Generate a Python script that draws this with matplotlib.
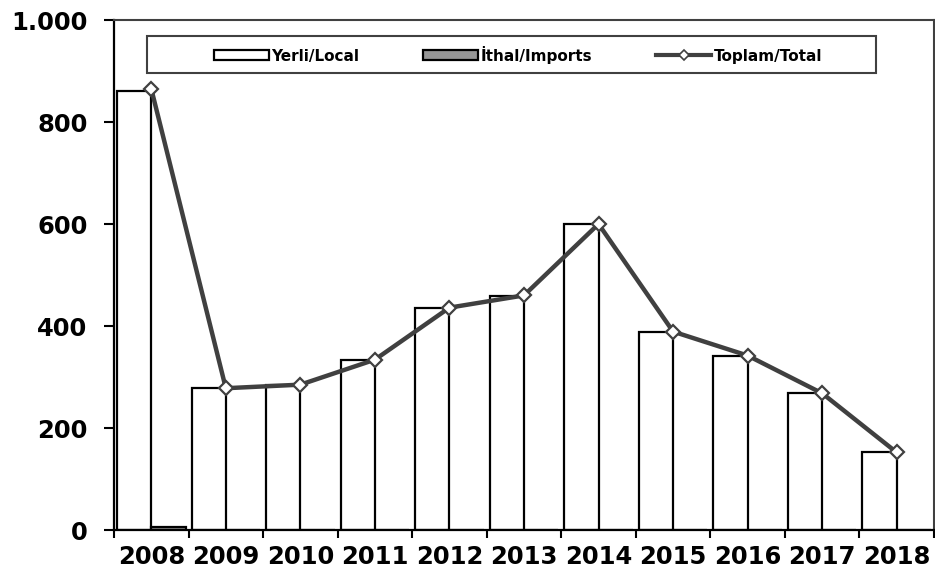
import matplotlib
matplotlib.use("Agg")
import matplotlib.pyplot as plt
from matplotlib.ticker import FixedLocator, FuncFormatter
from matplotlib.patches import Rectangle, Patch
from matplotlib.lines import Line2D
import numpy as np

years = ["2008", "2009", "2010", "2011", "2012", "2013", "2014", "2015", "2016", "2017", "2018"]
local = [860, 278, 284, 333, 436, 459, 600, 388, 341, 268, 152]
imports = [5, 0, 0, 0, 0, 0, 0, 0, 0, 0, 0]
total = [865, 278, 285, 334, 436, 460, 600, 389, 342, 268, 152]
yticks = [0, 200, 400, 600, 800, 1000]

W, H = 935, 578
fig = plt.figure(figsize=(W / 100, H / 100), dpi=100)
ax = fig.add_axes([114 / W, (H - 530) / H, 820 / W, 510 / H])

x = np.arange(len(years))
w = 0.46
ax.bar(x - w / 2, local, width=w, color="white", edgecolor="black", linewidth=1.6, zorder=2)
ax.bar(x + w / 2, imports, width=w, color="#969696", edgecolor="black", linewidth=1.6, zorder=2)
ax.plot(x, total, color="#404040", linewidth=3.2, marker="D", markersize=7,
        markerfacecolor="white", markeredgecolor="#404040", markeredgewidth=1.6, zorder=4)

ax.set_xlim(-0.5, len(years) - 0.5)
ax.set_ylim(0, 1000)

ax.xaxis.set_major_locator(FixedLocator(np.arange(len(years) + 1) - 0.5))
ax.xaxis.set_major_formatter(FuncFormatter(lambda v, p: ""))
ax.xaxis.set_minor_locator(FixedLocator(x))
ax.set_xticklabels(years, minor=True)
ax.tick_params(axis="x", which="major", direction="out", length=6, width=1.5, color="black")
ax.tick_params(axis="x", which="minor", length=0, pad=11, labelsize=17.5)

ax.set_yticks(yticks)
ax.yaxis.set_major_formatter(FuncFormatter(lambda v, p: f"{int(v):,}".replace(",", ".")))
ax.tick_params(axis="y", direction="out", length=7, width=1.5, pad=12, labelsize=17.5, color="black")

for lab in ax.get_xticklabels(minor=True) + ax.get_yticklabels():
    lab.set_fontweight("bold")

ax.spines["left"].set_color("black")
ax.spines["left"].set_linewidth(1.6)
ax.spines["bottom"].set_color("black")
ax.spines["bottom"].set_linewidth(1.6)
for s in ["top", "right"]:
    ax.spines[s].set_color("#404040")
    ax.spines[s].set_linewidth(1.5)

# legend frame
fig.patches.append(Rectangle((147 / W, (H - 73) / H), (876 - 147) / W, 37 / H,
                             transform=fig.transFigure, facecolor="white",
                             edgecolor="#404040", linewidth=1.5, zorder=5))
handles = [
    Patch(facecolor="white", edgecolor="black", linewidth=1.6),
    Patch(facecolor="#969696", edgecolor="black", linewidth=1.6),
    Line2D([0], [0], color="#404040", linewidth=3, marker="D", markersize=5,
           markerfacecolor="white", markeredgecolor="#404040", markeredgewidth=1.2),
]
labels = ["Yerli/Local", "İthal/Imports", "Toplam/Total"]
leg = fig.legend(handles, labels, loc="center", bbox_to_anchor=(518 / W, (H - 54.5) / H),
                 ncol=3, frameon=False, handlelength=3.6, handleheight=0.65,
                 handletextpad=0.15, columnspacing=4.2, prop={"weight": "bold", "size": 11})
leg.set_zorder(6)

fig.savefig("out.png", dpi=100)
